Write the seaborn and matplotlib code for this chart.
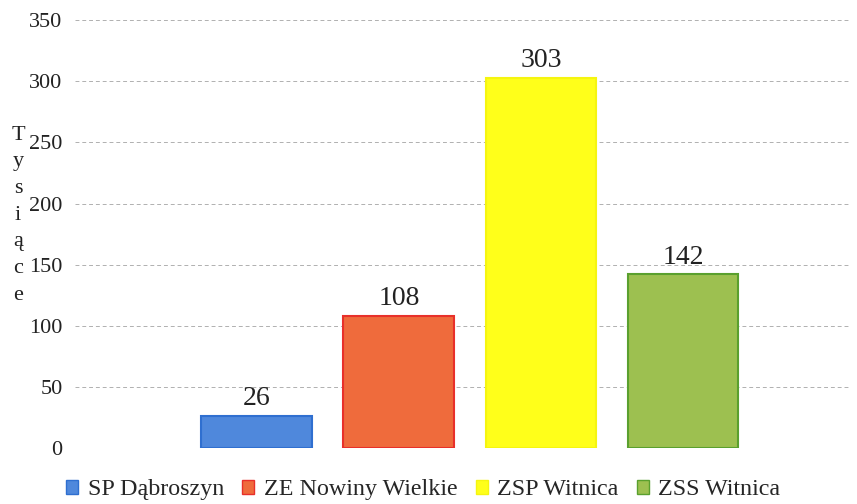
import matplotlib
matplotlib.use("Agg")
import matplotlib.pyplot as plt
import seaborn as sns
import pandas as pd

categories = ["SP Dąbroszyn", "ZE Nowiny Wielkie", "ZSP Witnica", "ZSS Witnica"]
values = [26, 108, 303, 142]
yticks = [0, 50, 100, 150, 200, 250, 300, 350]
fill_colors = ["#4f88dc", "#ef6b3c", "#ffff1a", "#9dc050"]
edge_colors = ["#2f6fd0", "#e8302a", "#f5f510", "#5aa02e"]

sns.set_theme(style="white")
plt.rcParams["font.family"] = ["Liberation Serif", "DejaVu Serif"]

df = pd.DataFrame({"cat": categories, "val": values})

fig = plt.figure(figsize=(8.57, 5.04), dpi=100)
ax = fig.add_axes([0.0875, 0.111, 0.905, 0.849])

sns.barplot(data=df, x="cat", y="val", hue="cat", palette=fill_colors,
            saturation=1, width=0.78, ax=ax, legend=False, zorder=3)

for patch, ec in zip(ax.patches, edge_colors):
    patch.set_edgecolor(ec)
    patch.set_linewidth(1.5)

for i, v in enumerate(values):
    ax.text(i, v + 4, str(v), ha="center", va="bottom", fontsize=20, color="#222222")

ax.set_ylim(0, 350)
ax.set_yticks(yticks)
ax.set_yticklabels([str(t) for t in yticks], fontsize=16, color="#222222")
ax.set_xlim(-1.28, 4.18)
ax.set_xticks([])
ax.set_xlabel("")
ax.set_ylabel("")
ax.tick_params(axis="y", length=0, pad=9)
for s in ax.spines.values():
    s.set_visible(False)
ax.yaxis.grid(True, linestyle=(0, (4, 3)), color="#b0b0b0", linewidth=0.7)
ax.set_axisbelow(True)

fig.text(0.021, 0.573, "\n".join("Tysiące"), ha="center", va="center",
         fontsize=16, color="#222222", linespacing=1.55)

from matplotlib.patches import Patch
handles = [Patch(facecolor=c, edgecolor=e, linewidth=1.0) for c, e in zip(fill_colors, edge_colors)]
fig.legend(handles, categories, loc="center", bbox_to_anchor=(0.494, 0.028), ncol=4,
           frameon=False, fontsize=17.3, handlelength=0.5, handleheight=0.5,
           handletextpad=0.4, columnspacing=0.75, borderaxespad=0, borderpad=0)

fig.savefig("out.png", dpi=100)
